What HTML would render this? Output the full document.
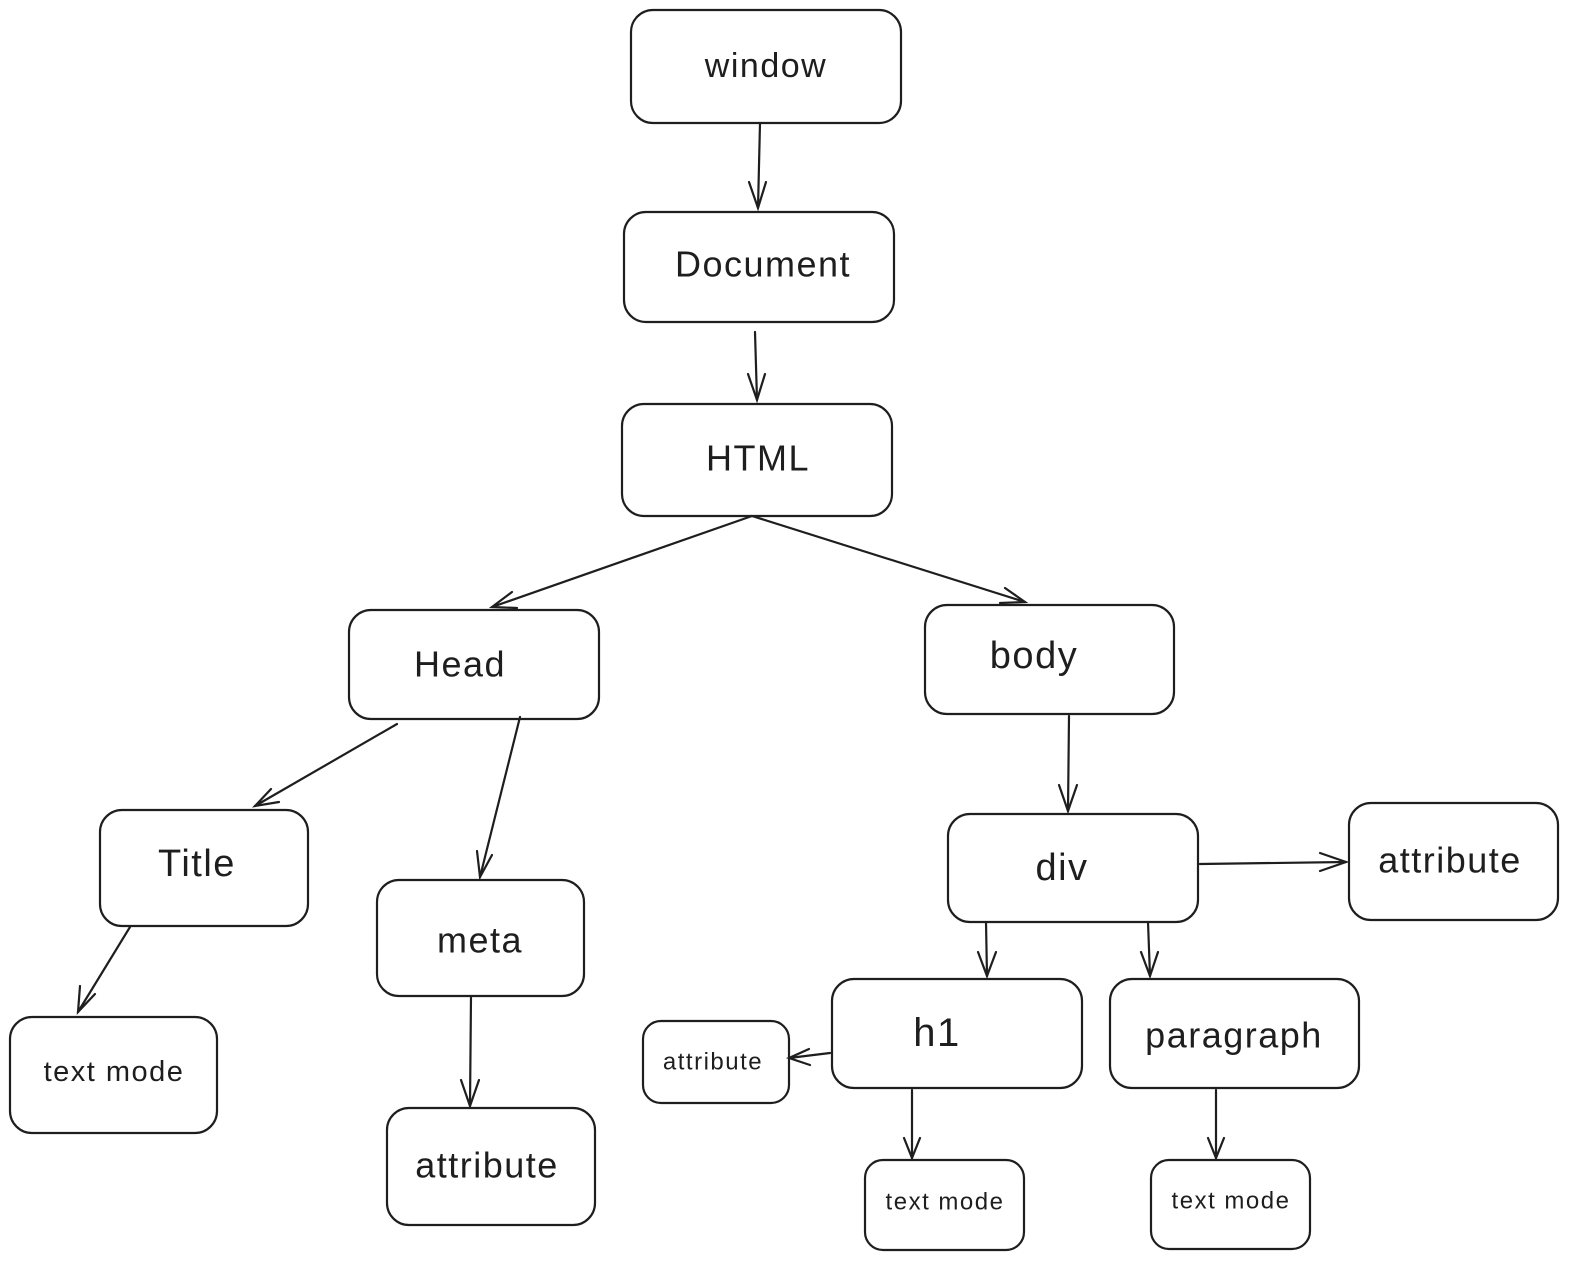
<!DOCTYPE html>
<html><head><meta charset="utf-8"><style>
html,body{margin:0;padding:0;background:#fff;}
svg{display:block;}
text{font-family:"Liberation Sans",sans-serif;fill:#1e1e1e;text-anchor:middle;dominant-baseline:central;letter-spacing:1.5px;}
</style></head><body>
<svg width="1570" height="1262" viewBox="0 0 1570 1262" xmlns="http://www.w3.org/2000/svg">
<g fill="none" stroke="#1e1e1e" stroke-width="2.2">
<rect x="631" y="10" width="270" height="113" rx="22"/>
<rect x="624" y="212" width="270" height="110" rx="22"/>
<rect x="622" y="404" width="270" height="112" rx="22"/>
<rect x="349" y="610" width="250" height="109" rx="22"/>
<rect x="925" y="605" width="249" height="109" rx="22"/>
<rect x="100" y="810" width="208" height="116" rx="22"/>
<rect x="377" y="880" width="207" height="116" rx="22"/>
<rect x="948" y="814" width="250" height="108" rx="22"/>
<rect x="1349" y="803" width="209" height="117" rx="22"/>
<rect x="10" y="1017" width="207" height="116" rx="22"/>
<rect x="387" y="1108" width="208" height="117" rx="22"/>
<rect x="832" y="979" width="250" height="109" rx="22"/>
<rect x="1110" y="979" width="249" height="109" rx="22"/>
<rect x="643" y="1021" width="146" height="82" rx="18"/>
<rect x="865" y="1160" width="159" height="90" rx="18"/>
<rect x="1151" y="1160" width="159" height="89" rx="18"/>
</g>
<g fill="none" stroke="#1e1e1e" stroke-width="2.2" stroke-linecap="round">
<line x1="760" y1="123" x2="758" y2="208"/><polyline points="749,182 758,208 766,182"/>
<line x1="755" y1="332" x2="757" y2="400"/><polyline points="748,374 757,400 765,374"/>
<line x1="752" y1="516" x2="492" y2="607"/><polyline points="512,592 492,607 517,608"/>
<line x1="752" y1="516" x2="1025" y2="602"/><polyline points="1000,603 1025,602 1005,588"/>
<line x1="397" y1="724" x2="255" y2="806"/><polyline points="271,789 255,806 279,802"/>
<line x1="520" y1="717" x2="480" y2="877"/><polyline points="477,851 480,877 492,855"/>
<line x1="1069" y1="716" x2="1068" y2="811"/><polyline points="1059,785 1068,811 1077,785"/>
<line x1="130" y1="927" x2="78" y2="1012"/><polyline points="80,986 78,1012 95,994"/>
<line x1="471" y1="996" x2="470" y2="1106"/><polyline points="461,1080 470,1106 479,1080"/>
<line x1="1200" y1="864" x2="1346" y2="862"/><polyline points="1320,853 1346,862 1320,871"/>
<line x1="986" y1="922" x2="987" y2="976"/><polyline points="978,952 987,976 996,952"/>
<line x1="1148" y1="922" x2="1150" y2="976"/><polyline points="1141,952 1150,976 1158,952"/>
<line x1="830" y1="1053" x2="789" y2="1058"/><polyline points="809,1049 789,1058 810,1065"/>
<line x1="912" y1="1090" x2="912" y2="1158"/><polyline points="904,1138 912,1158 920,1138"/>
<line x1="1216" y1="1090" x2="1216" y2="1158"/><polyline points="1208,1138 1216,1158 1224,1138"/>
</g>
<text x="766" y="66" font-size="34">window</text>
<text x="763" y="264" font-size="36">Document</text>
<text x="758" y="458" font-size="36">HTML</text>
<text x="460" y="664" font-size="36">Head</text>
<text x="1034" y="656" font-size="38">body</text>
<text x="197" y="864" font-size="38">Title</text>
<text x="480" y="940" font-size="36">meta</text>
<text x="1062" y="868" font-size="38">div</text>
<text x="1450" y="860" font-size="36">attribute</text>
<text x="114" y="1072" font-size="29">text mode</text>
<text x="487" y="1165" font-size="36">attribute</text>
<text x="937" y="1033" font-size="40">h1</text>
<text x="1234" y="1035" font-size="36">paragraph</text>
<text x="713" y="1062" font-size="24">attribute</text>
<text x="945" y="1202" font-size="24">text mode</text>
<text x="1231" y="1201" font-size="24">text mode</text>
</svg>
</body></html>
